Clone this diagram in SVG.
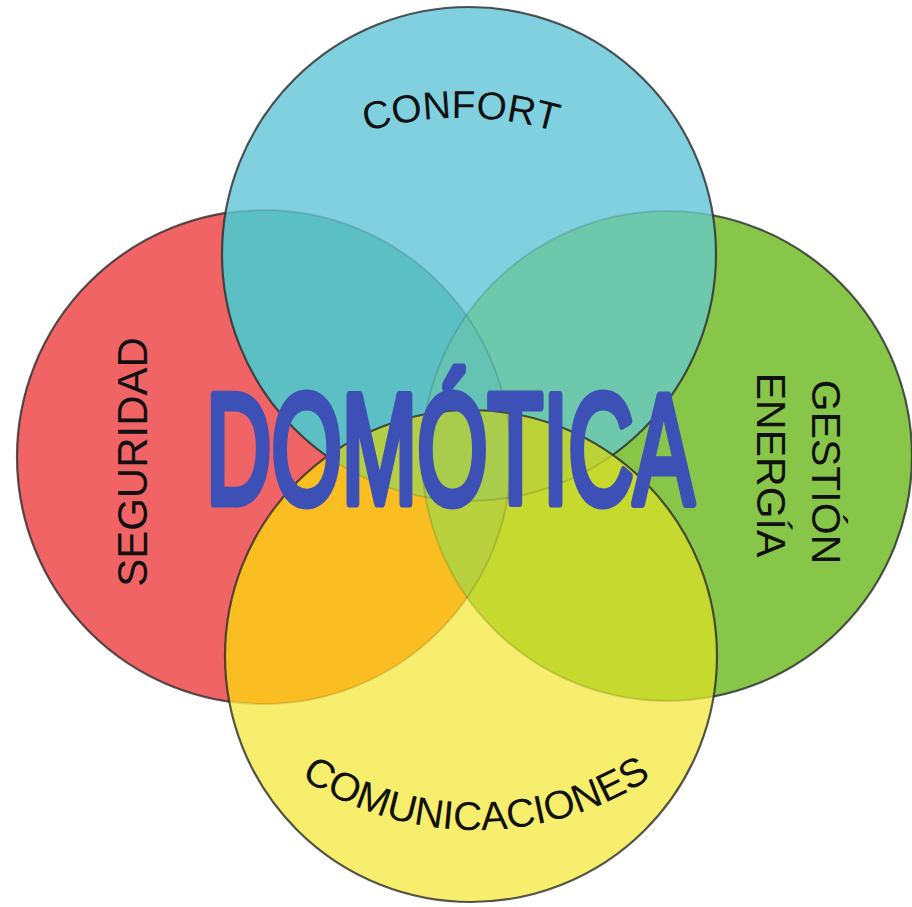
<svg xmlns="http://www.w3.org/2000/svg" width="912" height="907" viewBox="0 0 912 907">
<defs>
<circle id="cA" cx="469" cy="254" r="247"/>
<circle id="cB" cx="264" cy="457" r="247"/>
<circle id="cC" cx="667" cy="456" r="245"/>
<circle id="cD" cx="471" cy="656" r="246"/>
<clipPath id="kA"><circle cx="469" cy="254" r="247"/></clipPath>
<clipPath id="kB"><circle cx="264" cy="457" r="247"/></clipPath>
<clipPath id="kC"><circle cx="667" cy="456" r="245"/></clipPath>
<clipPath id="kD"><circle cx="471" cy="656" r="246"/></clipPath>
<path id="arcTop" d="M181,265.1 A340,340 0 0 1 741,265.1"/>
<path id="arcBot" d="M176,621.4 A320,320 0 0 0 776,621.4"/>
</defs>
<style>
.edge{fill:none;stroke:#2b2b2b;stroke-opacity:.8;stroke-width:2.2}
.faint{fill:none;stroke:#000;stroke-opacity:.12;stroke-width:2}
.lbl{font-family:"Liberation Sans",Arial,sans-serif;fill:#111}
</style>
<rect width="912" height="907" fill="#ffffff"/>

<g id="seguridad">
<use href="#cB" fill="#F06466"/>
<use href="#cB" class="edge"/>
</g>
<g id="gestion">
<use href="#cC" fill="#88C64A"/>
<use href="#cC" class="edge"/>
</g>

<g id="confort">
<use href="#cA" fill="#80D0E0"/>
<use href="#cA" fill="#5BBFC4" clip-path="url(#kB)"/>
<use href="#cA" fill="#6EC8AB" clip-path="url(#kC)"/>
<g clip-path="url(#kB)"><use href="#cA" fill="#64C3B2" clip-path="url(#kC)"/></g>
<g clip-path="url(#kA)">
<use href="#cB" class="faint"/>
<use href="#cC" class="faint"/>
</g>
<use href="#cA" class="edge"/>
</g>

<g id="comunicaciones">
<use href="#cD" fill="#F6EE6C"/>
<use href="#cD" fill="#FBBE22" clip-path="url(#kB)"/>
<use href="#cD" fill="#C6D92E" clip-path="url(#kC)"/>
<g clip-path="url(#kB)"><use href="#cD" fill="#B9D13C" clip-path="url(#kC)"/></g>
<g clip-path="url(#kA)">
<use href="#cD" fill="#B6CE46" clip-path="url(#kB)"/>
<use href="#cD" fill="#BCD338" clip-path="url(#kC)"/>
<g clip-path="url(#kB)"><use href="#cD" fill="#AACC4C" clip-path="url(#kC)"/></g>
</g>
<g clip-path="url(#kD)">
<use href="#cA" class="faint"/>
<use href="#cB" class="faint"/>
<use href="#cC" class="faint"/>
</g>
<use href="#cD" class="edge"/>
</g>

<g id="labels">
<text class="lbl" font-size="39"><textPath href="#arcTop" startOffset="50%" text-anchor="middle">CONFORT</textPath></text>
<text class="lbl" font-size="40"><textPath href="#arcBot" startOffset="50%" text-anchor="middle">COMUNICACIONES</textPath></text>
<text class="lbl" font-size="42" text-anchor="middle" transform="translate(147,462) rotate(-90)">SEGURIDAD</text>
<text class="lbl" font-size="41" text-anchor="middle" transform="translate(812,472) rotate(90)">GESTIÓN</text>
<text class="lbl" font-size="41" text-anchor="middle" transform="translate(757,465) rotate(90)">ENERGÍA</text>
</g>

<g id="domotica">
<text x="206" y="502.5" font-family="'Liberation Sans',Arial,sans-serif" font-size="155" fill="#3D50B5" stroke="#3D50B5" stroke-width="9" stroke-linejoin="round" textLength="488" lengthAdjust="spacingAndGlyphs">DOMÓTICA</text>
</g>
</svg>
